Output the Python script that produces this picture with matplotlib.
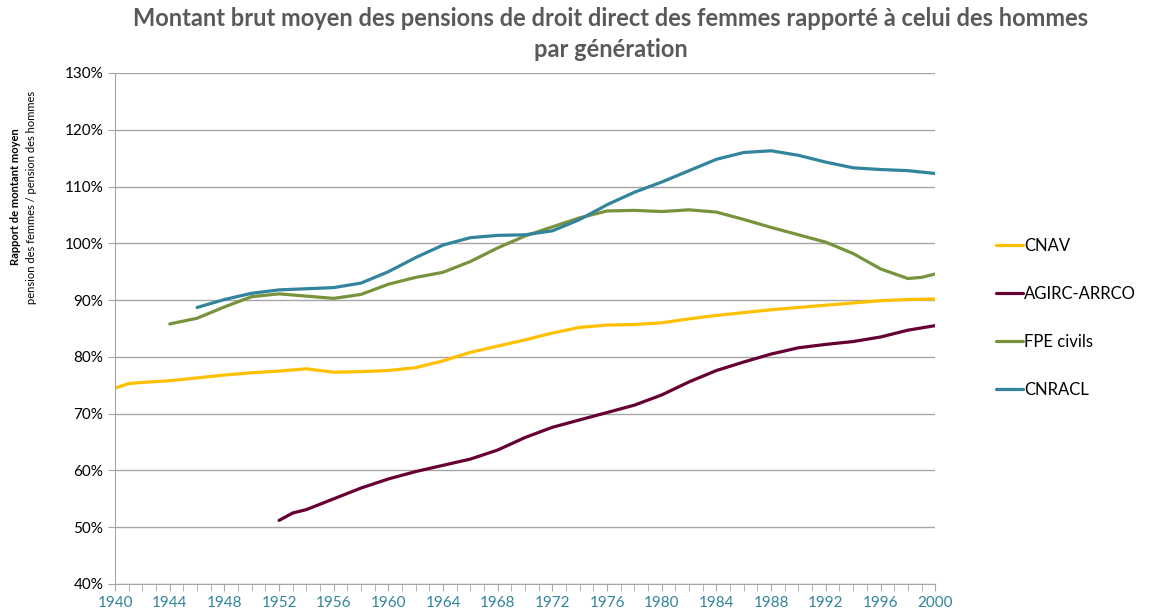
import matplotlib
matplotlib.use("Agg")
import matplotlib.pyplot as plt
from matplotlib.ticker import FuncFormatter, MultipleLocator

plt.rcParams['font.family'] = ['Lato', 'DejaVu Sans']

# generations (years) and ratio women / men (%)
cnav_years = [1940, 1941, 1942, 1944, 1946, 1948, 1950, 1952, 1954, 1956, 1958, 1960,
              1962, 1964, 1966, 1968, 1970, 1972, 1974, 1976, 1978, 1980, 1982,
              1984, 1986, 1988, 1990, 1992, 1994, 1996, 1998, 2000]
cnav = [74.5, 75.3, 75.5, 75.8, 76.3, 76.8, 77.2, 77.5, 77.9, 77.3, 77.4, 77.6,
        78.1, 79.3, 80.8, 81.9, 83.0, 84.2, 85.2, 85.6, 85.7, 86.0, 86.7,
        87.3, 87.8, 88.3, 88.7, 89.1, 89.5, 89.9, 90.1, 90.2]

agirc_years = [1952, 1953, 1954, 1956, 1958, 1960, 1962, 1964, 1966, 1968, 1970,
               1972, 1974, 1976, 1978, 1980, 1982, 1984, 1986, 1988, 1990,
               1992, 1994, 1996, 1998, 2000]
agirc = [51.2, 52.5, 53.1, 55.0, 56.9, 58.5, 59.8, 60.9, 62.0, 63.6, 65.8,
         67.6, 68.9, 70.2, 71.5, 73.3, 75.6, 77.6, 79.1, 80.5, 81.6,
         82.2, 82.7, 83.5, 84.7, 85.5]

fpe_years = [1944, 1946, 1948, 1950, 1952, 1954, 1956, 1958, 1960, 1962, 1964,
             1966, 1968, 1970, 1972, 1974, 1976, 1978, 1980, 1982, 1984, 1986,
             1988, 1990, 1992, 1994, 1996, 1998, 1999, 2000]
fpe = [85.8, 86.8, 88.8, 90.6, 91.1, 90.7, 90.3, 91.0, 92.8, 94.0, 94.9,
       96.8, 99.2, 101.3, 102.9, 104.5, 105.7, 105.8, 105.6, 105.9, 105.5, 104.2,
       102.8, 101.5, 100.2, 98.2, 95.5, 93.8, 94.0, 94.6]

cnracl_years = [1946, 1948, 1950, 1952, 1954, 1956, 1958, 1960, 1962, 1964, 1966,
                1968, 1970, 1972, 1974, 1976, 1978, 1980, 1982, 1984, 1986, 1988,
                1990, 1992, 1994, 1996, 1998, 2000]
cnracl = [88.7, 90.1, 91.2, 91.8, 92.0, 92.2, 93.0, 95.0, 97.5, 99.7, 101.0,
          101.4, 101.5, 102.2, 104.2, 106.8, 109.0, 110.8, 112.8, 114.8, 116.0, 116.3,
          115.5, 114.3, 113.3, 113.0, 112.8, 112.3]

fig = plt.figure(figsize=(11.75, 6.16), dpi=100)
ax = fig.add_axes([0.0979, 0.052, 0.698, 0.8295])

lw = 2.3
ax.plot(cnav_years, cnav, color='#FFC000', lw=lw, label='CNAV', solid_capstyle='round')
ax.plot(agirc_years, agirc, color='#660033', lw=lw, label='AGIRC-ARRCO', solid_capstyle='round')
ax.plot(fpe_years, fpe, color='#77933C', lw=lw, label='FPE civils', solid_capstyle='round')
ax.plot(cnracl_years, cnracl, color='#31849B', lw=lw, label='CNRACL', solid_capstyle='round')

ax.set_xlim(1940, 2000)
ax.set_ylim(40, 130)
ax.yaxis.set_major_locator(MultipleLocator(10))
ax.yaxis.set_major_formatter(FuncFormatter(lambda v, p: f"{v:.0f}%"))
ax.xaxis.set_major_locator(MultipleLocator(4))
ax.xaxis.set_minor_locator(MultipleLocator(1))
ax.xaxis.set_major_formatter(FuncFormatter(lambda v, p: f"{v:.0f}"))

ax.grid(axis='y', color='#A6A6A6', lw=1)
ax.set_axisbelow(True)
for s in ['top', 'right']:
    ax.spines[s].set_visible(False)
for s in ['left', 'bottom']:
    ax.spines[s].set_color('#A6A6A6')
ax.tick_params(axis='y', colors='#A6A6A6', labelcolor='black', labelsize=11, length=5, direction='out')
ax.tick_params(axis='x', which='both', colors='#A6A6A6', labelcolor='#31849B', labelsize=11,
               length=5, direction='out')

fig.text(0.52, 0.988, "Montant brut moyen des pensions de droit direct des femmes rapporté à celui des hommes\npar génération",
         ha='center', va='top', fontsize=17, fontweight='bold', color='#595959', linespacing=1.4)

fig.text(0.013, 0.68, "Rapport de montant moyen", rotation=90, ha='center', va='center',
         fontsize=8, fontweight='bold')
fig.text(0.027, 0.68, "pension des femmes / pension des hommes", rotation=90, ha='center', va='center',
         fontsize=8)

fig.legend(loc='upper left', bbox_to_anchor=(0.842, 0.625), frameon=False, fontsize=12,
           handlelength=1.6, handletextpad=0.1, labelspacing=1.93, borderaxespad=0)

fig.savefig('out.png', dpi=100)
